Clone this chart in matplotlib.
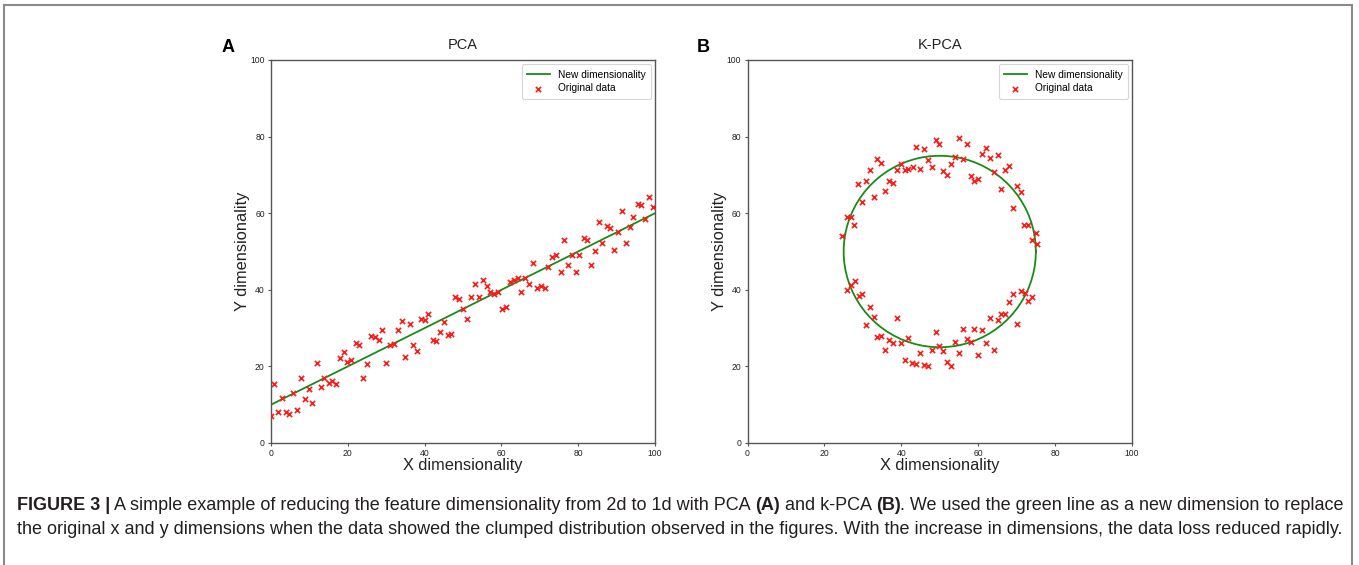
import numpy as np
import matplotlib
matplotlib.use("Agg")
import matplotlib.pyplot as plt
from matplotlib import font_manager as fm
from matplotlib.lines import Line2D

# ---------------- data ----------------
pca_x = [0, 0.9, 1.7, 2.9, 4.0, 4.8, 5.8, 6.9, 7.9, 8.8, 9.9, 10.8, 11.9, 12.9, 13.7,
         15.0, 15.8, 17.0, 17.9, 18.9, 19.9, 20.8, 22.1, 23.0, 23.9, 25.0, 26.1, 27.1,
         28.0, 29.0, 30.0, 31.1, 32.0, 33.0, 34.0, 35.0, 36.1, 37.0, 38.1, 39.0, 40.0,
         41.0, 42.1, 43.0, 44.0, 45.0, 46.0, 47.0, 48.0, 48.9,
         50.1, 51.1, 52.2, 53.1, 54.2, 55.2, 56.2, 57.1, 58.2, 59.2, 60.2, 61.2, 62.2,
         63.2, 64.2, 65.2, 66.2, 67.2, 68.2, 69.3, 70.3, 71.3, 72.2, 73.3, 74.2, 75.4,
         76.3, 77.3, 78.3, 79.3, 80.3, 81.4, 82.3, 83.4, 84.3, 85.4, 86.3, 87.4, 88.3,
         89.4, 90.4, 91.5, 92.4, 93.5, 94.4, 95.5, 96.4, 97.4, 98.5, 99.5]
pca_y = [7.0, 15.5, 8.0, 11.7, 8.0, 7.6, 13.0, 8.5, 17.0, 11.5, 14.1, 10.4, 21.0, 14.5,
         17.0, 15.6, 16.1, 15.5, 22.1, 23.7, 21.2, 21.6, 26.1, 25.6, 17.0, 20.5, 28.0,
         27.6, 27.0, 29.5, 21.0, 25.6, 25.9, 29.5, 31.9, 22.4, 31.0, 25.5, 24.1, 32.5,
         32.0, 33.6, 27.0, 26.6, 29.0, 31.5, 28.2, 28.5, 38.0, 37.7,
         35.0, 32.5, 38.0, 41.6, 38.0, 42.5, 41.0, 39.5, 39.0, 39.5, 35.0, 35.5, 42.1,
         42.5, 43.0, 39.5, 43.0, 41.6, 47.1, 40.5, 41.0, 40.5, 45.9, 48.5, 49.1, 44.6,
         53.0, 46.6, 49.0, 44.6, 49.1, 53.6, 53.0, 46.6, 50.0, 57.6, 52.1, 56.7, 56.1,
         50.5, 55.0, 60.6, 52.1, 56.5, 59.0, 62.5, 62.1, 58.5, 64.2, 61.6]
pca_line_x = [0, 100]
pca_line_y = [10, 60]

kpca_top_x = [24.7, 25.8, 26.9, 27.75, 28.7, 29.75, 30.8, 31.75, 32.8, 33.8, 34.8, 35.8,
              36.8, 37.8, 38.8, 39.8, 40.9, 41.75, 43.0, 43.9, 44.95, 45.9, 46.9, 47.9,
              48.9, 49.9, 50.97, 51.9, 52.97, 54.0, 54.97, 56.0, 56.97, 58.0, 58.97, 60.0,
              60.97, 61.9, 63.06, 64.1, 65.06, 66.0, 67.06, 68.0, 69.05, 70.1, 71.06,
              71.9, 73.06, 74.1, 75.15, 75.2]
kpca_top_y = [54.1, 59.0, 58.9, 56.9, 67.65, 63.05, 68.3, 71.4, 64.35, 74.26, 73.05, 65.7,
              68.4, 68.0, 71.4, 72.96, 71.3, 71.65, 72.0, 77.4, 71.5, 76.7, 73.8, 72.0,
              79.05, 78.0, 71.05, 69.9, 72.8, 74.7, 79.6, 74.26, 78.0, 69.7, 68.35, 68.9,
              75.4, 77.05, 74.35, 70.7, 75.1, 66.26, 71.3, 72.4, 61.3, 67.05, 65.65,
              56.9, 56.9, 53.05, 54.96, 52.0]
kpca_bot_x = [25.8, 26.9, 27.85, 28.9, 29.75, 30.9, 31.85, 32.9, 33.8, 34.8, 35.8, 36.8,
              37.8, 38.8, 39.8, 40.9, 41.8, 42.9, 43.8, 44.9, 45.9, 46.9, 47.9, 48.9,
              49.9, 50.97, 51.9, 52.97, 53.9, 54.97, 56.0, 56.97, 58.0, 58.97, 60.0,
              60.97, 62.0, 63.06, 64.0, 65.06, 66.0, 67.0, 68.0, 69.06, 70.1, 71.06,
              72.1, 73.06, 74.1]
kpca_bot_y = [40.0, 41.3, 42.2, 38.4, 39.0, 30.8, 35.6, 32.8, 27.8, 28.0, 24.3, 26.8,
              26.1, 32.6, 26.1, 21.7, 27.4, 21.0, 20.7, 23.5, 20.3, 20.2, 24.2, 29.0,
              25.2, 24.1, 21.2, 20.2, 26.4, 23.5, 29.7, 27.1, 26.3, 29.7, 23.1, 29.6,
              26.1, 32.7, 24.3, 32.0, 33.8, 33.8, 36.7, 38.8, 31.0, 39.6, 39.2, 37.2, 38.0]
circle_center = (50, 50)
circle_radius = 25

titles = ["PCA", "K-PCA"]
panel_letters = ["A", "B"]
xlabel = "X dimensionality"
ylabel = "Y dimensionality"
legend_labels = ["New dimensionality", "Original data"]
ticks = [0, 20, 40, 60, 80, 100]

caption_line1 = [("FIGURE 3 |", "bold"),
                 (" A simple example of reducing the feature dimensionality from 2d to 1d with PCA ", "normal"),
                 ("(A)", "bold"), (" and k-PCA ", "normal"), ("(B)", "bold"),
                 (". We used the green line as a new dimension to replace", "normal")]
caption_line2 = [("the original x and y dimensions when the data showed the clumped distribution "
                  "observed in the figures. With the increase in dimensions, the data loss reduced rapidly.",
                  "normal")]

# ---------------- style ----------------
names = {f.name for f in fm.fontManager.ttflist}
plot_font = "Liberation Sans" if "Liberation Sans" in names else "DejaVu Sans"
cap_font = "Liberation Sans Narrow" if "Liberation Sans Narrow" in names else plot_font
cap_size = 15.5 if cap_font == "Liberation Sans Narrow" else 12.95
plt.rcParams["font.family"] = [plot_font, "DejaVu Sans"]

W, H = 1359, 565
fig = plt.figure(figsize=(W / 100, H / 100), dpi=100)
fig.patch.set_facecolor("white")

spine_c = "#555555"
GREEN = "#1a8a1a"
RED = "#ff1a1a"


def setup(ax):
    ax.set_xlim(0, 100)
    ax.set_ylim(0, 100)
    ax.set_xticks(ticks)
    ax.set_yticks(ticks)
    ax.tick_params(labelsize=6.2, length=2.5, width=0.8, color=spine_c, pad=2,
                   labelcolor="#222222")
    for s in ax.spines.values():
        s.set_color(spine_c)
        s.set_linewidth(1.0)
    ax.set_xlabel(xlabel, fontsize=11.8, labelpad=0, color="#222222")
    ax.set_ylabel(ylabel, fontsize=11.8, labelpad=0, color="#222222")


axA = fig.add_axes([271 / W, 1 - 443 / H, 384 / W, 383 / H])
axB = fig.add_axes([747.5 / W, 1 - 443 / H, 384.5 / W, 383 / H])

for ax, title in zip([axA, axB], titles):
    setup(ax)
    ax.set_title(title, fontsize=10.5, pad=8, color="#222222")

axA.plot(pca_line_x, pca_line_y, color=GREEN, lw=1.3, label=legend_labels[0])
axA.scatter(pca_x, pca_y, marker="x", color=RED, s=14, linewidths=1.2,
            label=legend_labels[1], zorder=3)

theta = np.linspace(0, 2 * np.pi, 80)
axB.plot(circle_center[0] + circle_radius * np.cos(theta),
         circle_center[1] + circle_radius * np.sin(theta),
         color=GREEN, lw=1.3, label=legend_labels[0])
axB.scatter(kpca_top_x + kpca_bot_x, kpca_top_y + kpca_bot_y, marker="x", color=RED,
            s=14, linewidths=1.2, label=legend_labels[1], zorder=3)

for ax in [axA, axB]:
    leg = ax.legend(loc="upper right", fontsize=7.3, frameon=True, fancybox=True,
                    borderpad=0.55, handlelength=2.2, labelspacing=0.35,
                    borderaxespad=0.4)
    leg.get_frame().set_edgecolor("#cccccc")
    leg.get_frame().set_linewidth(0.8)

fig.text(228 / W, 1 - 47 / H, panel_letters[0], fontsize=13, fontweight="bold",
         ha="center", va="center", family=plot_font)
fig.text(703 / W, 1 - 47 / H, panel_letters[1], fontsize=13, fontweight="bold",
         ha="center", va="center", family=plot_font)

# border lines
for (x0, y0, x1, y1) in [(4, 5, 1352, 5), (4, 5, 4, 565), (1352, 5, 1352, 565)]:
    fig.add_artist(Line2D([x0 / W, x1 / W], [1 - y0 / H, 1 - y1 / H], color="#8a8a8a",
                          lw=1.5, transform=fig.transFigure))

# caption
fig.canvas.draw()
renderer = fig.canvas.get_renderer()


def draw_line(pieces, x_px, y_px, size):
    x = x_px
    for txt, weight in pieces:
        t = fig.text(x / W, 1 - y_px / H, txt, fontsize=size, fontweight=weight,
                     family=cap_font, ha="left", va="baseline", color="#231f20")
        bb = t.get_window_extent(renderer=renderer)
        x += bb.width


draw_line(caption_line1, 17, 510, cap_size)
draw_line(caption_line2, 17, 534, cap_size)

fig.savefig("out.png", dpi=100)
